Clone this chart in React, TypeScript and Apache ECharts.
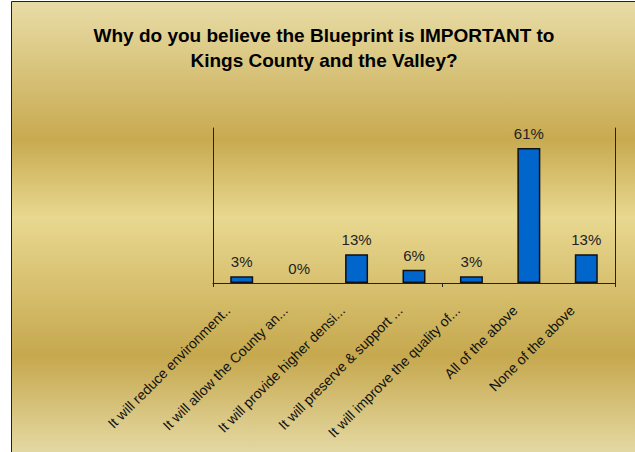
import React, { useEffect, useRef } from "react";
import * as echarts from "echarts";

const titleLines = [
  "Why do you believe the Blueprint is IMPORTANT to",
  "Kings County and the Valley?",
];
const categories = [
  "It will reduce environment..",
  "It will allow the County an...",
  "It will provide higher densi...",
  "It will preserve & support ...",
  "It will improve the quality of...",
  "All of the above",
  "None of the above",
];
const values = [3, 0, 13, 6, 3, 61, 13];
const yMax = 70;

const FONT = "'Liberation Sans', Arial, sans-serif";

export default function App() {
  const ref = useRef<HTMLDivElement>(null);
  useEffect(() => {
    document.body.style.margin = "0";
    const chart = echarts.init(ref.current!, undefined, { renderer: "svg" });
    const hiddenY = {
      type: "value",
      min: 0,
      max: yMax,
      show: false,
    };
    chart.setOption({
      animation: false,
      backgroundColor: "#ffffff",
      textStyle: { fontFamily: FONT },
      graphic: [
        {
          type: "rect",
          z: -10,
          silent: true,
          shape: { x: 11.5, y: 1.5, width: 630, height: 460 },
          style: {
            fill: new echarts.graphic.LinearGradient(0, 0, 0, 1, [
              { offset: 0, color: "#e8dca6" },
              { offset: 0.3, color: "#c8aa50" },
              { offset: 0.47, color: "#e8d890" },
              { offset: 0.77, color: "#c6a84e" },
              { offset: 1, color: "#e7ddaa" },
            ]),
            stroke: "#222222",
            lineWidth: 1,
          },
        },
        {
          type: "text",
          x: 324,
          y: 23,
          style: {
            text: titleLines.join("\n"),
            align: "center",
            verticalAlign: "top",
            font: `bold 19px ${FONT}`,
            fill: "#000000",
            lineHeight: 25,
          },
        },
      ],
      grid: [
        { left: 213, right: 20, top: 128, bottom: 169, containLabel: false },
        { left: 199, right: 34, top: 128, bottom: 169, containLabel: false },
      ],
      xAxis: [
        {
          type: "category",
          gridIndex: 0,
          data: categories,
          axisLine: { show: true, lineStyle: { color: "#222", width: 1 } },
          axisTick: { show: true, length: 4, alignWithLabel: false, lineStyle: { color: "#222" } },
          axisLabel: { show: false },
        },
        {
          type: "category",
          gridIndex: 1,
          data: categories,
          axisLine: { show: false },
          axisTick: { show: false },
          axisLabel: {
            interval: 0,
            rotate: 45,
            margin: 25,
            fontSize: 14,
            color: "#111",
            fontFamily: FONT,
          },
        },
      ],
      yAxis: [
        {
          type: "value",
          gridIndex: 0,
          min: 0,
          max: yMax,
          axisLine: { show: true, lineStyle: { color: "#222", width: 1 } },
          axisTick: { show: false },
          axisLabel: { show: false },
          splitLine: { show: false },
        },
        {
          type: "value",
          gridIndex: 0,
          position: "right",
          min: 0,
          max: yMax,
          axisLine: { show: true, lineStyle: { color: "#222", width: 1 } },
          axisTick: { show: false },
          axisLabel: { show: false },
          splitLine: { show: false },
        },
        { ...hiddenY, gridIndex: 1 },
      ],
      series: [
        {
          type: "bar",
          xAxisIndex: 0,
          yAxisIndex: 0,
          data: values.map((v) =>
            v === 0 ? { value: v, itemStyle: { borderWidth: 0 } } : v
          ),
          barCategoryGap: "60%",
          itemStyle: { color: "#0066cc", borderColor: "#111", borderWidth: 1.5 },
          label: {
            show: true,
            position: "top",
            distance: 7,
            formatter: "{c}%",
            fontSize: 15,
            color: "#222",
            fontFamily: FONT,
          },
        },
      ],
    });
    return () => chart.dispose();
  }, []);
  return <div ref={ref} style={{ width: 635, height: 452 }} />;
}
